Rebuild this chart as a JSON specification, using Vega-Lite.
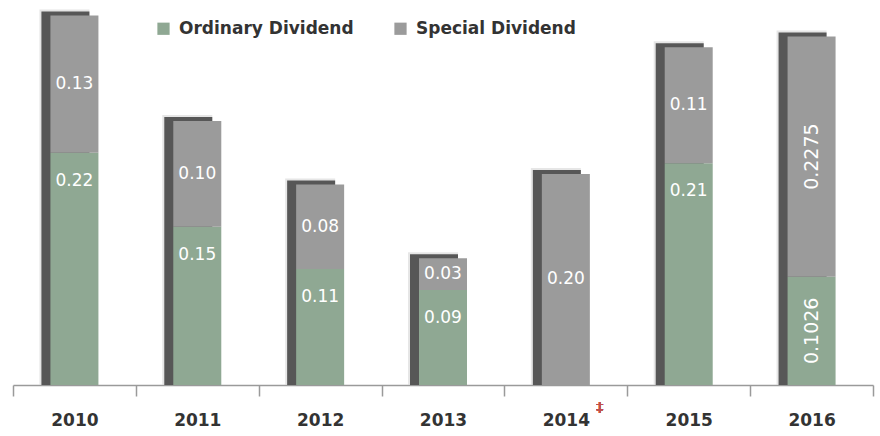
{
  "$schema": "https://vega.github.io/schema/vega-lite/v6.json",
  "width": 860,
  "height": 380,
  "autosize": {"type": "none"},
  "padding": {"left": 13, "top": 5, "right": 7, "bottom": 51},
  "background": "white",
  "config": {
    "view": {"stroke": null},
    "font": "DejaVu Sans",
    "text": {"font": "DejaVu Sans"}
  },
  "data": {
    "values": [
      {"year": "2010", "type": "Ordinary Dividend", "value": 0.22, "label": "0.22"},
      {"year": "2010", "type": "Special Dividend", "value": 0.13, "label": "0.13"},
      {"year": "2011", "type": "Ordinary Dividend", "value": 0.15, "label": "0.15"},
      {"year": "2011", "type": "Special Dividend", "value": 0.10, "label": "0.10"},
      {"year": "2012", "type": "Ordinary Dividend", "value": 0.11, "label": "0.11"},
      {"year": "2012", "type": "Special Dividend", "value": 0.08, "label": "0.08"},
      {"year": "2013", "type": "Ordinary Dividend", "value": 0.09, "label": "0.09"},
      {"year": "2013", "type": "Special Dividend", "value": 0.03, "label": "0.03"},
      {"year": "2014", "type": "Special Dividend", "value": 0.20, "label": "0.20"},
      {"year": "2015", "type": "Ordinary Dividend", "value": 0.21, "label": "0.21"},
      {"year": "2015", "type": "Special Dividend", "value": 0.11, "label": "0.11"},
      {"year": "2016", "type": "Ordinary Dividend", "value": 0.1026, "label": "0.1026"},
      {"year": "2016", "type": "Special Dividend", "value": 0.2275, "label": "0.2275"}
    ]
  },
  "transform": [
    {"stack": "value", "groupby": ["year"], "sort": [{"field": "type", "order": "ascending"}], "as": ["v0", "v1"]}
  ],
  "encoding": {
    "x": {
      "field": "year",
      "type": "nominal",
      "scale": {"paddingInner": 0, "paddingOuter": 0},
      "axis": {
        "title": null,
        "labelAngle": 0,
        "domainColor": "#9a9a9a",
        "domainWidth": 1.5,
        "tickColor": "#9a9a9a",
        "tickWidth": 1.5,
        "tickSize": 11,
        "tickBand": "extent",
        "labelFont": "DejaVu Sans",
        "labelFontSize": 17,
        "labelFontWeight": "bold",
        "labelColor": "#333333",
        "labelBaseline": "middle",
        "labelPadding": 24
      }
    }
  },
  "layer": [
    {
      "mark": {"type": "bar", "color": "#d6d6d6", "opacity": 0.6, "width": 50, "xOffset": -10, "yOffset": -6},
      "encoding": {
        "y": {"field": "v1", "aggregate": "max", "type": "quantitative", "scale": {"domain": [0, 0.36], "nice": false, "zero": true}, "axis": null},
        "y2": {"datum": 0}
      }
    },
    {
      "mark": {"type": "bar", "color": "#575757", "width": 48, "xOffset": -9, "yOffset": -4},
      "encoding": {
        "y": {"field": "v1", "aggregate": "max", "type": "quantitative", "scale": {"domain": [0, 0.36], "nice": false}},
        "y2": {"datum": 0}
      }
    },
    {
      "mark": {"type": "bar", "width": 48},
      "encoding": {
        "y": {"field": "v1", "type": "quantitative", "scale": {"domain": [0, 0.36], "nice": false}},
        "y2": {"field": "v0"},
        "color": {
          "field": "type",
          "type": "nominal",
          "scale": {"domain": ["Ordinary Dividend", "Special Dividend"], "range": ["#8fa893", "#9b9b9b"]},
          "legend": {
            "title": null,
            "orient": "none",
            "direction": "horizontal",
            "legendX": 142,
            "legendY": 15,
            "symbolType": "square",
            "symbolSize": 150,
            "symbolStrokeWidth": 0,
            "labelFont": "DejaVu Sans",
            "labelFontSize": 17,
            "labelFontWeight": "bold",
            "labelColor": "#333333",
            "labelOffset": 7,
            "labelLimit": 400,
            "columnPadding": 38
          }
        }
      }
    },
    {
      "transform": [
        {"filter": "datum.type === 'Special Dividend' && datum.year !== '2016'"},
        {"fold": ["v0", "v1"], "as": ["k", "pos"]},
        {"aggregate": [{"op": "mean", "field": "pos", "as": "mid"}], "groupby": ["year", "type", "label"]}
      ],
      "mark": {"type": "text", "color": "white", "fontSize": 17, "baseline": "middle", "align": "center"},
      "encoding": {
        "y": {"field": "mid", "type": "quantitative", "scale": {"domain": [0, 0.36], "nice": false}},
        "text": {"field": "label"}
      }
    },
    {
      "transform": [
        {"filter": "datum.year === '2016'"},
        {"fold": ["v0", "v1"], "as": ["k", "pos"]},
        {"aggregate": [{"op": "mean", "field": "pos", "as": "mid"}], "groupby": ["year", "type", "label"]}
      ],
      "mark": {"type": "text", "color": "white", "fontSize": 19, "baseline": "middle", "align": "center", "angle": 270},
      "encoding": {
        "y": {"field": "mid", "type": "quantitative", "scale": {"domain": [0, 0.36], "nice": false}},
        "text": {"field": "label"}
      }
    },
    {
      "transform": [
        {"filter": "datum.type === 'Ordinary Dividend' && datum.year !== '2016'"}
      ],
      "mark": {"type": "text", "color": "white", "fontSize": 17, "baseline": "middle", "align": "center", "dy": 28},
      "encoding": {
        "y": {"field": "v1", "type": "quantitative", "scale": {"domain": [0, 0.36], "nice": false}},
        "text": {"field": "label"}
      }
    },
    {
      "mark": {"type": "text", "color": "#c0504d", "fontSize": 14, "baseline": "middle", "align": "center", "dx": 34, "dy": 23, "text": "‡"},
      "encoding": {
        "x": {"datum": "2014"},
        "y": {"datum": 0, "scale": {"domain": [0, 0.36], "nice": false}}
      }
    }
  ]
}
